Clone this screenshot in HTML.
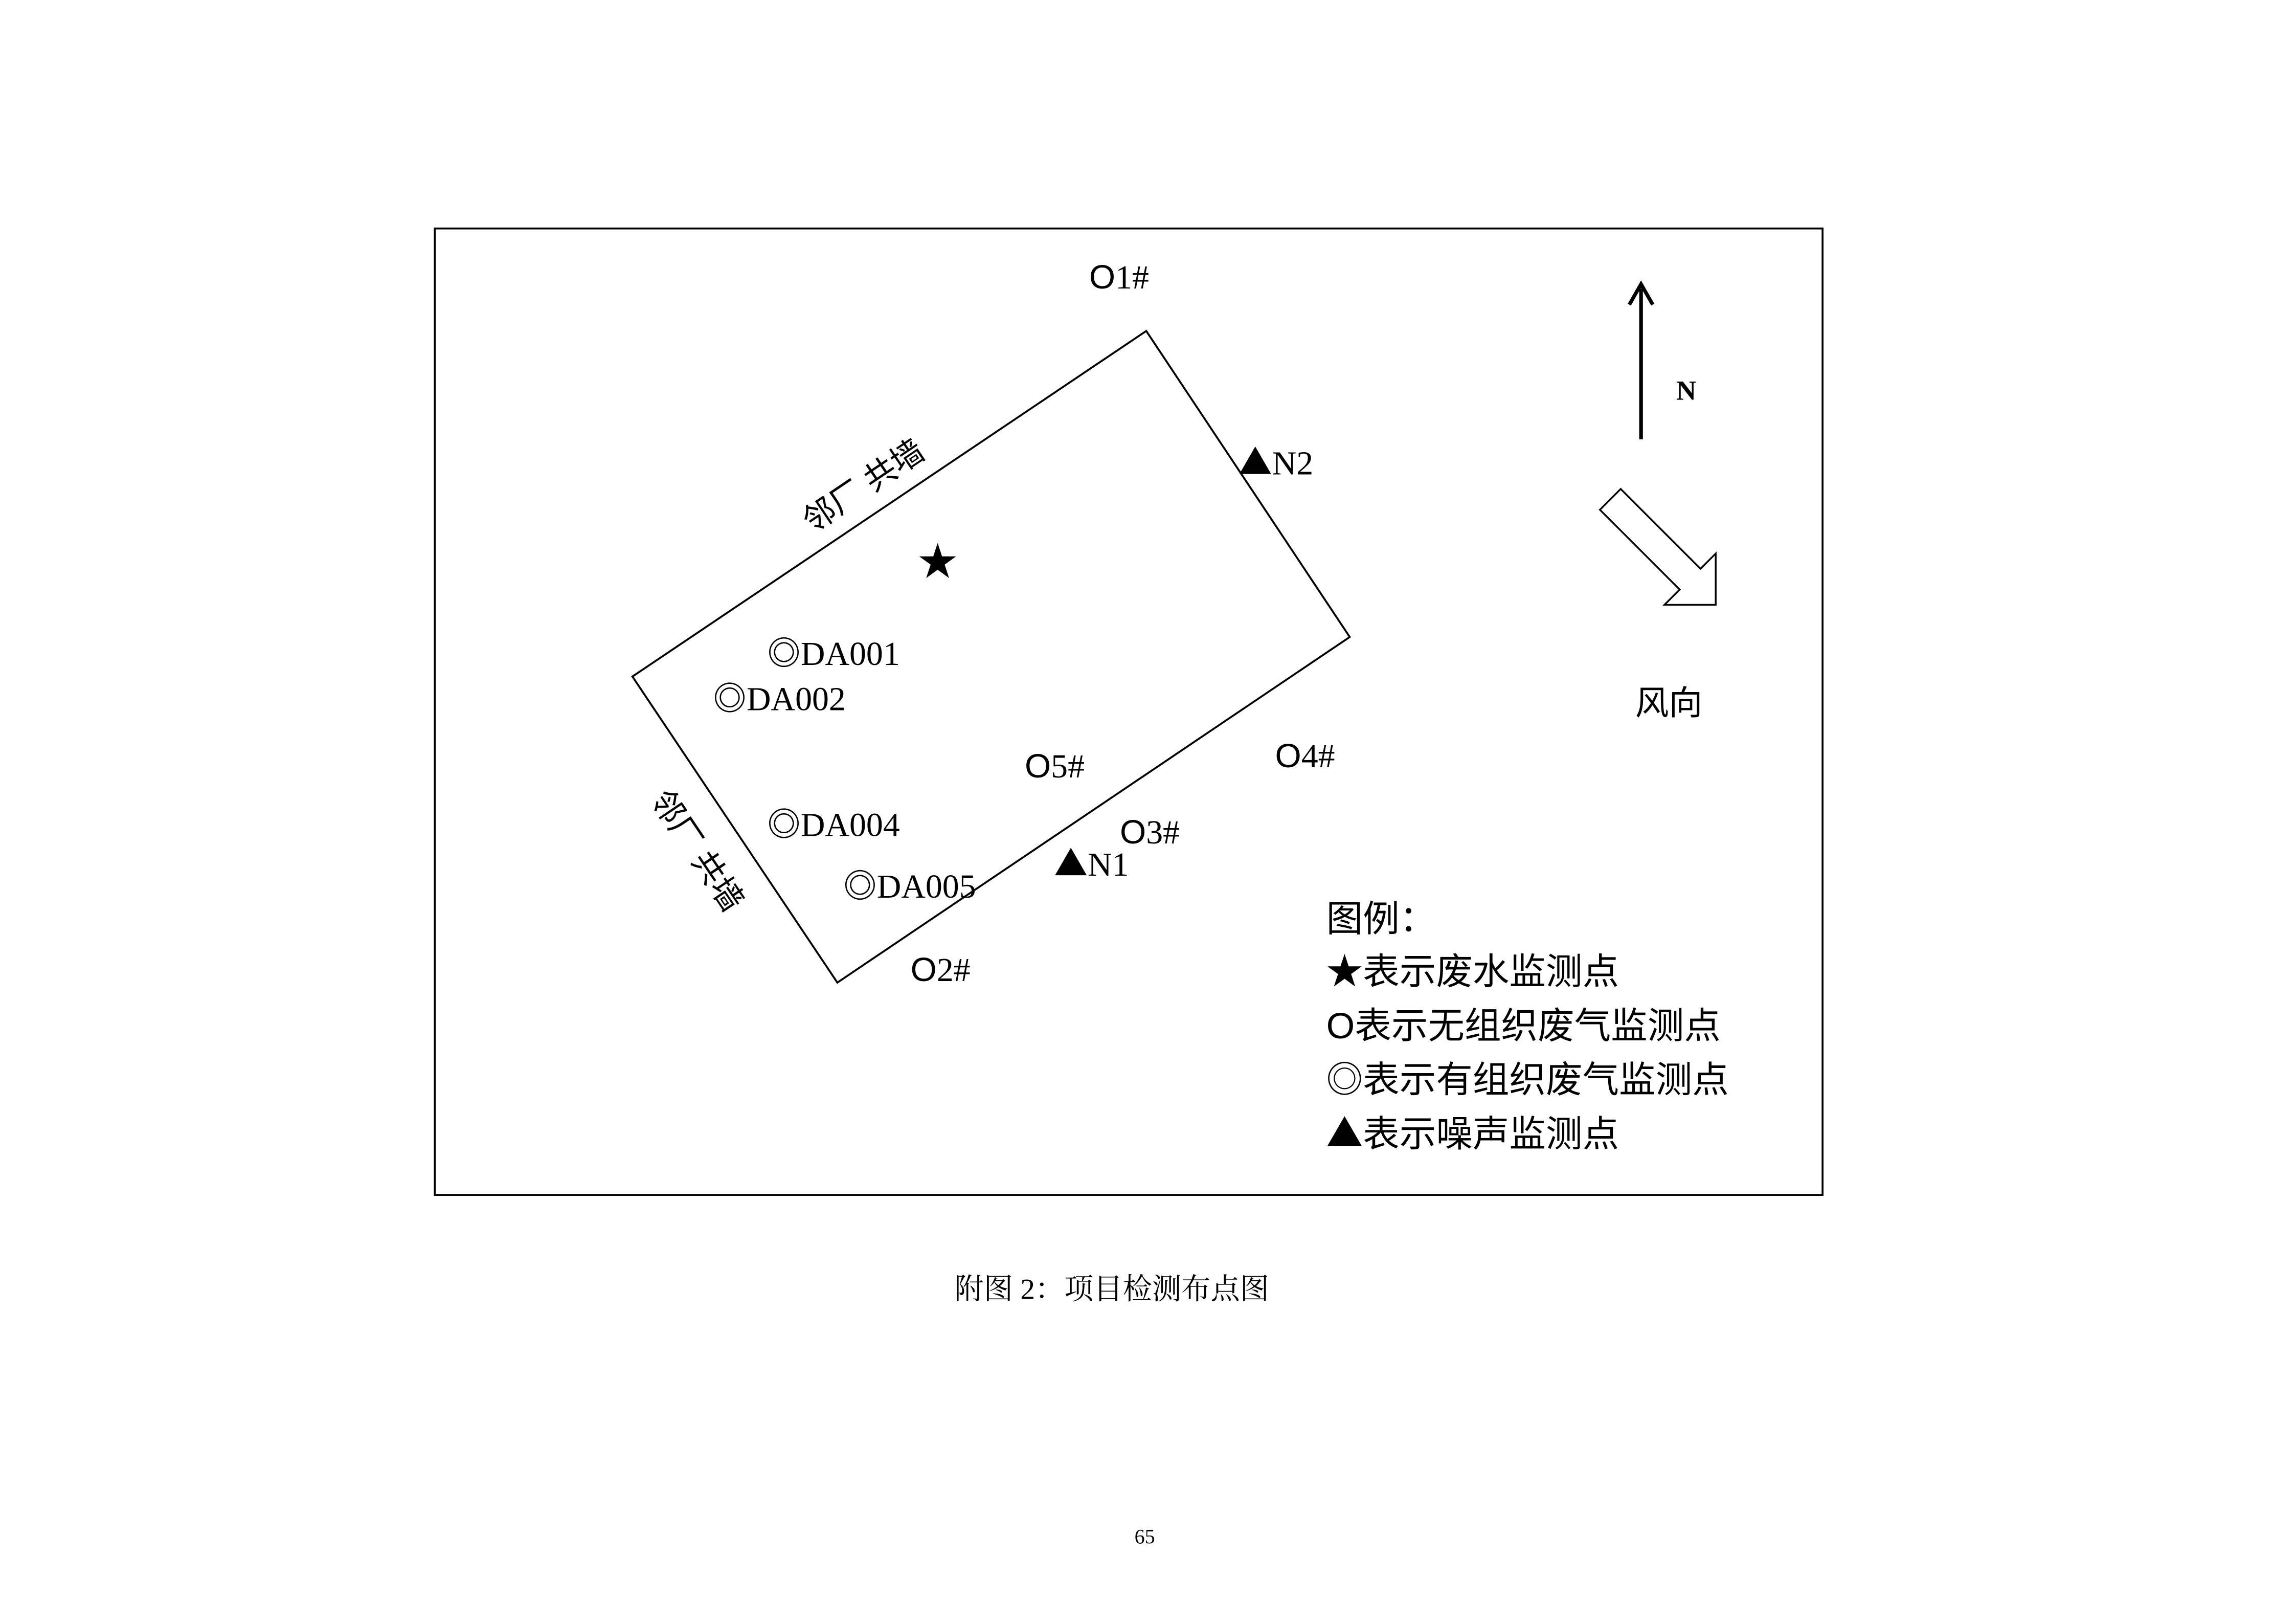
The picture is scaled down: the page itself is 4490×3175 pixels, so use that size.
<!DOCTYPE html>
<html><head><meta charset="utf-8"><style>html,body{margin:0;padding:0;background:#fff}svg{display:block}</style></head>
<body>
<svg width="4490" height="3175" viewBox="0 0 1568.4 1109" xmlns="http://www.w3.org/2000/svg" font-family="'Liberation Serif','Noto Serif CJK SC','Noto Sans CJK SC',serif">
<rect width="1568.4" height="1109" fill="#fff"/>
<rect x="297" y="156" width="948" height="660" fill="none" stroke="#000" stroke-width="1.3"/>
<polygon points="783,226 922,435 572,671 432,462" fill="none" stroke="#000" stroke-width="1.3"/>
<g font-size="23" fill="#000">
<text x="744" y="197"><tspan font-family="'Liberation Sans',sans-serif">O</tspan>1#</text>
<text x="846" y="324"><tspan font-family="'Noto Sans CJK SC',sans-serif">▲</tspan>N2</text>
<text x="627" y="393" font-size="27">★</text>
<text x="524" y="454">◎DA001</text>
<text x="487" y="485">◎DA002</text>
<text x="700" y="531"><tspan font-family="'Liberation Sans',sans-serif">O</tspan>5#</text>
<text x="871" y="524"><tspan font-family="'Liberation Sans',sans-serif">O</tspan>4#</text>
<text x="524" y="571">◎DA004</text>
<text x="765" y="576"><tspan font-family="'Liberation Sans',sans-serif">O</tspan>3#</text>
<text x="720" y="598"><tspan font-family="'Noto Sans CJK SC',sans-serif">▲</tspan>N1</text>
<text x="576" y="613">◎DA005</text>
<text x="622" y="670"><tspan font-family="'Liberation Sans',sans-serif">O</tspan>2#</text>
<text x="1117" y="488" font-family="'Liberation Sans','Noto Sans CJK SC',sans-serif">风向</text>
</g>
<g font-size="22" font-family="'Liberation Sans','Noto Sans CJK SC',sans-serif">
<text transform="translate(594,338) rotate(-34)" text-anchor="middle">邻厂 共墙</text>
<text transform="translate(470,585) rotate(56)" text-anchor="middle">邻厂 共墙</text>
</g>
<line x1="1121" y1="300" x2="1121" y2="197" stroke="#000" stroke-width="2.5"/>
<polyline points="1113,208 1121,194 1129,208" fill="none" stroke="#000" stroke-width="2.5"/>
<text x="1145" y="273" font-size="19" font-weight="bold">N</text>
<polygon points="1107.1,333.9 1161.6,388.4 1172,378 1172,413 1137,413 1147.4,402.6 1092.9,348.1" fill="#fff" stroke="#000" stroke-width="1.2"/>
<g font-size="25" font-family="'Liberation Sans','Noto Sans CJK SC',sans-serif">
<text x="906" y="636">图例：</text>
<text x="906" y="672">★表示废水监测点</text>
<text x="906" y="709">O表示无组织废气监测点</text>
<text x="906" y="746">◎表示有组织废气监测点</text>
<text x="906" y="783"><tspan font-family="'Noto Sans CJK SC',sans-serif">▲</tspan>表示噪声监测点</text>
</g>
<text x="652" y="887" font-size="20">附图 2：项目检测布点图</text>
<text x="775" y="1054" font-size="14">65</text>
</svg>
</body></html>
